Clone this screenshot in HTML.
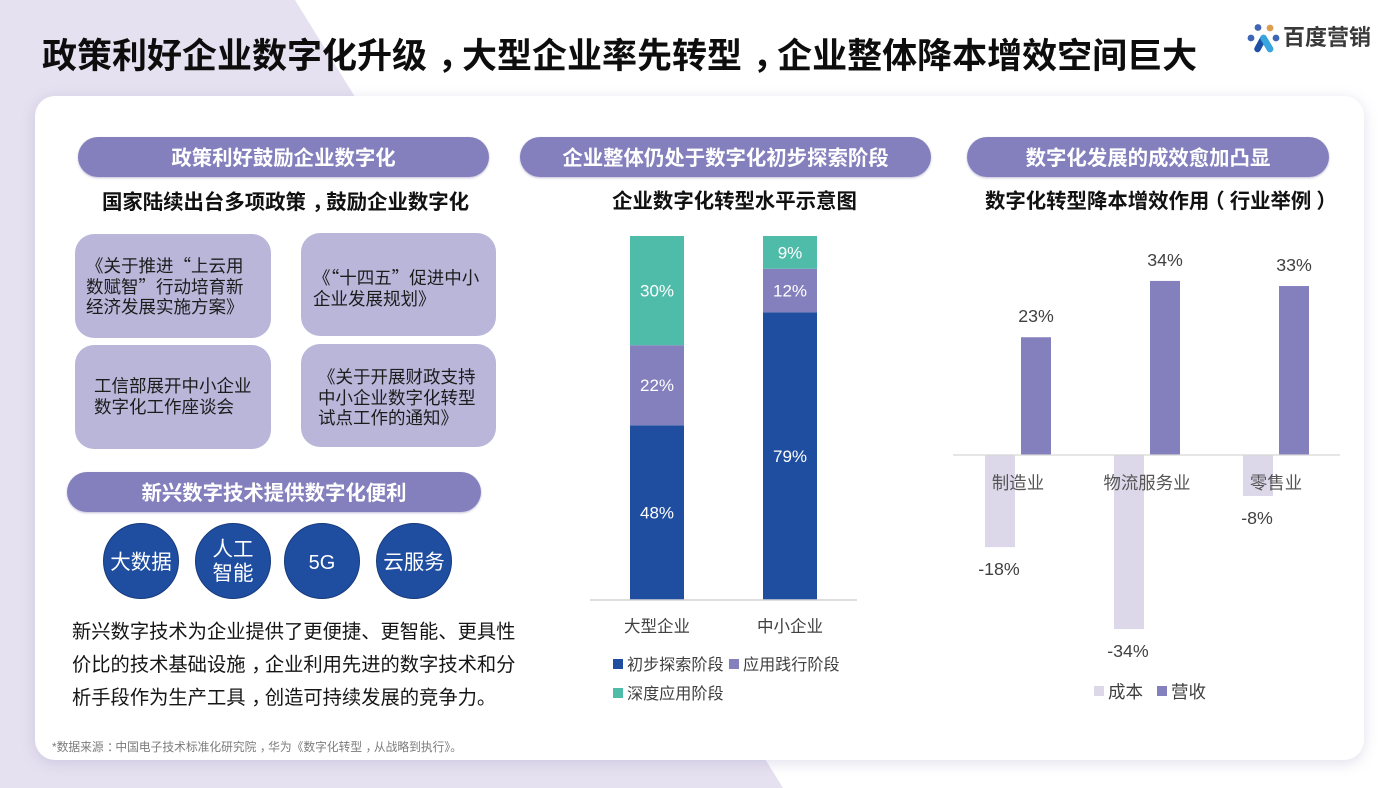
<!DOCTYPE html>
<html>
<head>
<meta charset="utf-8">
<title>政策利好企业数字化升级</title>
<style>
html,body{margin:0;padding:0;}
body{width:1400px;height:788px;overflow:hidden;position:relative;background:#fff;font-family:"Liberation Sans","Noto Sans CJK SC",sans-serif;color:#111;}
.abs{position:absolute;}
.c{position:relative;left:.3em;}
.lp{position:relative;left:-.25em;}
.rp{position:relative;left:.25em;}
.pill{position:absolute;height:40px;line-height:45px;border-radius:20px;background:#8480bd;color:#fff;font-size:20.4px;font-weight:700;text-align:center;box-shadow:0 1px 2px rgba(80,70,140,.35);}
.sub{position:absolute;font-size:20.4px;font-weight:700;color:#111;white-space:nowrap;text-align:center;line-height:26px;}
.box{position:absolute;background:#b9b6da;border-radius:19px;font-family:"Noto Sans CJK SC",sans-serif;font-size:17.5px;line-height:20.5px;color:#1c1c1c;white-space:nowrap;box-sizing:border-box;}
.box span{position:absolute;white-space:nowrap;}
.circle{position:absolute;width:76px;height:76px;border-radius:50%;background:#1f4ea1;border:1px solid #173a7c;box-sizing:border-box;color:#fff;font-size:20.5px;line-height:24.5px;display:flex;align-items:center;justify-content:center;text-align:center;padding-top:2px;}
.circle.single{padding-top:5px;}
svg text{font-family:"Liberation Sans","Noto Sans CJK SC",sans-serif;}
</style>
</head>
<body>
<svg class="abs" style="left:0;top:0" width="1400" height="788">
  <polygon points="0,0 295,0 783,788 0,788" fill="#e6e1f0"/>
</svg>
<div class="abs" style="left:35px;top:96px;width:1329px;height:664px;background:#fff;border-radius:20px;box-shadow:0 3px 14px rgba(120,110,170,.22);"></div>

<div class="abs" style="left:42px;top:34px;font-size:35px;font-weight:700;line-height:46px;color:#0d0d0d;white-space:nowrap;">政策利好企业数字化升级<span class="c">，</span>大型企业率先转型<span class="c">，</span>企业整体降本增效空间巨大</div>

<svg class="abs" style="left:1245px;top:20px" width="40" height="36" viewBox="0 0 40 36">
  <circle cx="13" cy="7.5" r="3.4" fill="#3f66b5"/>
  <circle cx="25" cy="8" r="3.4" fill="#dd9d4e"/>
  <circle cx="6" cy="18" r="3.4" fill="#3f66b5"/>
  <circle cx="31" cy="18" r="3.4" fill="#3f66b5"/>
  <path d="M12.5 29 L18.5 18 L25 29" fill="none" stroke="#1d4fa5" stroke-width="6.5" stroke-linecap="round" stroke-linejoin="round"/>
  <path d="M18.5 18 L25 29" fill="none" stroke="#38a6de" stroke-width="6.5" stroke-linecap="round"/>
</svg>
<div class="abs" style="left:1283px;top:23px;font-size:22px;line-height:30px;font-weight:700;color:#3a3a3a;white-space:nowrap;">百度营销</div>

<!-- Left column -->
<div class="pill" style="left:78px;top:137px;width:411px;">政策利好鼓励企业数字化</div>
<div class="sub" style="left:78px;top:190px;width:415px;">国家陆续出台多项政策<span class="c">，</span>鼓励企业数字化</div>

<div class="box" style="left:75px;top:234px;width:196px;height:104px;"><span style="left:11px;top:22px;">《关于推进“上云用<br>数赋智”行动培育新<br>经济发展实施方案》</span></div>
<div class="box" style="left:301px;top:233px;width:195px;height:103px;"><span style="left:12px;top:35px;">《“十四五”促进中小<br>企业发展规划》</span></div>
<div class="box" style="left:75px;top:345px;width:196px;height:104px;"><span style="left:19px;top:31px;">工信部展开中小企业<br>数字化工作座谈会</span></div>
<div class="box" style="left:301px;top:344px;width:195px;height:103px;"><span style="left:17px;top:23px;">《关于开展财政支持<br>中小企业数字化转型<br>试点工作的通知》</span></div>

<div class="pill" style="left:67px;top:472px;width:414px;">新兴数字技术提供数字化便利</div>

<div class="circle single" style="left:103px;top:523px;">大数据</div>
<div class="circle" style="left:195px;top:523px;">人工<br>智能</div>
<div class="circle single" style="left:284px;top:523px;font-size:20px;">5G</div>
<div class="circle single" style="left:376px;top:523px;">云服务</div>

<div class="abs" style="left:72px;top:616px;font-size:19.3px;line-height:33px;color:#151515;white-space:nowrap;">新兴数字技术为企业提供了更便捷、更智能、更具性<br>价比的技术基础设施<span class="c">，</span>企业利用先进的数字技术和分<br>析手段作为生产工具<span class="c">，</span>创造可持续发展的竞争力。</div>

<div class="abs" style="left:52px;top:740px;font-size:11.75px;line-height:16px;color:#7b7b7b;white-space:nowrap;">*数据来源<span class="c">：</span>中国电子技术标准化研究院<span class="c">，</span>华为《数字化转型<span class="c">，</span>从战略到执行》。</div>

<!-- Middle column -->
<div class="pill" style="left:520px;top:137px;width:411px;">企业整体仍处于数字化初步探索阶段</div>
<div class="sub" style="left:520px;top:189px;width:429px;">企业数字化转型水平示意图</div>

<!-- Right column -->
<div class="pill" style="left:967px;top:137px;width:362px;">数字化发展的成效愈加凸显</div>
<div class="sub" style="left:985px;top:189px;">数字化转型降本增效作用<span class="lp">（</span>行业举例<span class="rp">）</span></div>

<svg id="stacked-chart" class="abs" style="left:0;top:0;pointer-events:none" width="1400" height="788"></svg>
<svg id="bar-chart" class="abs" style="left:0;top:0;pointer-events:none" width="1400" height="788"></svg>

<script>
var stackCategories = ['大型企业', '中小企业'];
var stackSeriesNames = ['初步探索阶段', '应用践行阶段', '深度应用阶段'];
var stackExplore = [48, 79];
var stackApply = [22, 12];
var stackDeep = [30, 9];

var industryCategories = ['制造业', '物流服务业', '零售业'];
var costValues = [-18, -34, -8];
var revenueValues = [23, 34, 33];
var barSeriesNames = ['成本', '营收'];

var NS = 'http://www.w3.org/2000/svg';
function mk(parent, tag, attrs, txt) {
  var el = document.createElementNS(NS, tag);
  for (var k in attrs) el.setAttribute(k, attrs[k]);
  if (txt !== undefined) el.textContent = txt;
  parent.appendChild(el);
  return el;
}

/* stacked chart */
(function () {
  var svg = document.getElementById('stacked-chart');
  var baseY = 600, plotH = 364;
  var y = function (v) { return baseY - v / 100 * plotH; };
  var x = function (i) { return 657 + i * 133; };
  var barW = 54;
  var colors = ['#1f4ea1', '#8480bd', '#4fbcaa'];
  var series = [stackExplore, stackApply, stackDeep];
  stackCategories.forEach(function (cat, i) {
    var acc = 0;
    series.forEach(function (vals, s) {
      var v = vals[i];
      var r = mk(svg, 'rect', { x: x(i) - barW / 2, y: y(acc + v), width: barW, height: y(acc) - y(acc + v), fill: colors[s] });
      
      
      var t = mk(svg, 'text', { x: x(i), y: (y(acc) + y(acc + v)) / 2 + 6, 'text-anchor': 'middle', 'font-size': 17, fill: '#fff' }, v + '%');
      
      
      acc += v;
    });
    var c = mk(svg, 'text', { x: x(i), y: 632, 'text-anchor': 'middle', 'font-size': 16.5, fill: '#404040' }, cat);
    
    
  });
  var ax = mk(svg, 'line', { x1: 590, x2: 857, y1: baseY, y2: baseY, stroke: '#d4d4d4', 'stroke-width': 1.5 });
  
  
  var legendPos = [[613, 664], [729, 664], [613, 693]];
  stackSeriesNames.forEach(function (n, s) {
    var sw = mk(svg, 'rect', { x: legendPos[s][0], y: legendPos[s][1] - 5, width: 10, height: 10, fill: colors[s] });
    
    
    var t = mk(svg, 'text', { x: legendPos[s][0] + 14, y: legendPos[s][1] + 6, 'font-size': 16.1, fill: '#404040' }, n);
    
    
  });
})();

/* cost / revenue chart */
(function () {
  var svg = document.getElementById('bar-chart');
  var baseY = 455, pxPerPct = 5.12;
  var y = function (v) { return baseY - v * pxPerPct; };
  var x = function (i) { return 1018 + i * 129; };
  var barW = 30, off = 18;
  var ax = null;
  industryCategories.forEach(function (cat, i) {
    var cv = costValues[i], rv = revenueValues[i];
    var c = mk(svg, 'rect', { x: x(i) - off - barW / 2, y: baseY, width: barW, height: y(cv) - baseY, fill: '#dcd8ea' });
    
    
    var r = mk(svg, 'rect', { x: x(i) + off - barW / 2, y: y(rv), width: barW, height: baseY - y(rv), fill: '#8480bd' });
    
    
    var cl = mk(svg, 'text', { x: x(i) - off - 1, y: y(cv) + 28, 'text-anchor': 'middle', 'font-size': 17.8, fill: '#404040' }, cv + '%');
    
    
    var rl = mk(svg, 'text', { x: x(i) + off, y: y(rv) - 15, 'text-anchor': 'middle', 'font-size': 17.8, fill: '#404040' }, rv + '%');
    
    
    var t = mk(svg, 'text', { x: x(i), y: 489, 'text-anchor': 'middle', 'font-size': 17.4, fill: '#555' }, cat);
    
    
  });
  ax = mk(svg, 'line', { x1: 953, x2: 1340, y1: baseY, y2: baseY, stroke: '#d6d6d6', 'stroke-width': 1.2 });
  
  
  var colors = ['#dcd8ea', '#8480bd'];
  var lx = [1094, 1157];
  barSeriesNames.forEach(function (n, s) {
    var sw = mk(svg, 'rect', { x: lx[s], y: 686, width: 10, height: 10, fill: colors[s] });
    
    
    var t = mk(svg, 'text', { x: lx[s] + 14, y: 698, 'font-size': 17.5, fill: '#404040' }, n);
    
    
  });
})();
</script>
</body>
</html>
